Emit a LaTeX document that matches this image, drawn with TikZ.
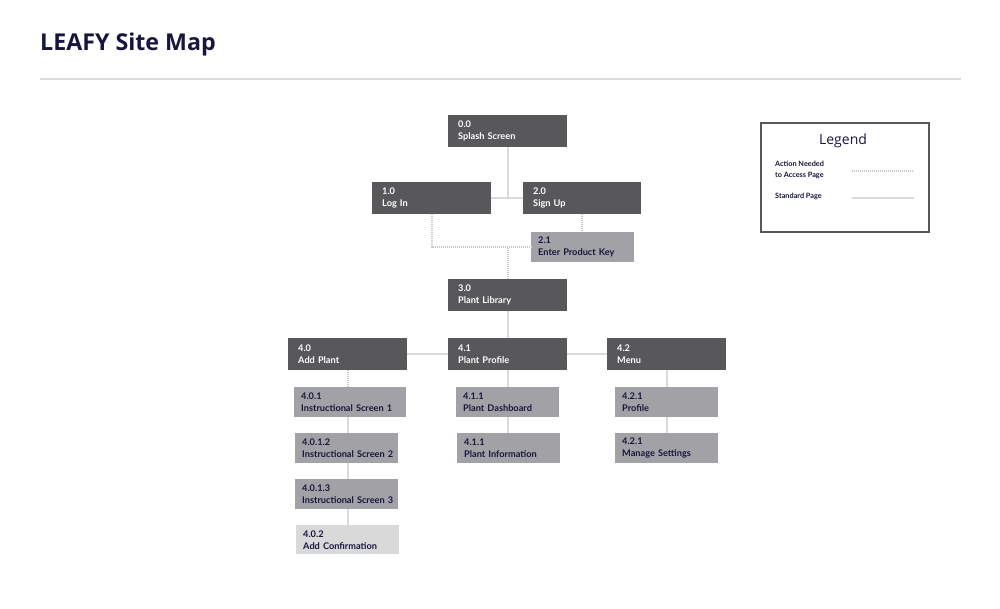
\documentclass[tikz,border=0pt]{standalone}
\usepackage{fontspec}
\setmainfont{Open Sans}
\newfontfamily\boxfont{Lato}
\definecolor{dk}{HTML}{58585A}
\definecolor{md}{HTML}{A2A2A6}
\definecolor{lt}{HTML}{D9D9D9}
\definecolor{nv}{HTML}{16163F}
\definecolor{ln}{HTML}{DADADA}
\begin{document}
\begin{tikzpicture}[x=1pt,y=-1pt,
  pg/.style n args={2}{rectangle, anchor=north west, inner xsep=10pt, inner ysep=0pt,
     minimum width=#1, minimum height=#2, text width=#1-20pt, align=left,
     font=\boxfont\bfseries\fontsize{9.2}{12}\selectfont},
  dkpg/.style={fill=dk, text=white},
  mdpg/.style={fill=md, text=nv},
  ltpg/.style={fill=lt, text=nv},
  solidln/.style={draw=ln, line width=2pt},
  dotln/.style={draw=ln!80!gray, line width=2pt, dash pattern=on 1pt off 1pt}]
\useasboundingbox[fill=white] (0,0) rectangle (1000,609);
% title
\node[anchor=base west, inner sep=0pt, text=nv, font=\bfseries\fontsize{23.2}{28}\selectfont] (title) at (40,51) {LEAFY Site Map};
\coordinate (r1) at (40,79);
\coordinate (r2) at (961,79);
\draw[draw=ln, line width=2pt] (r1) -- (r2);
% pages
\node[pg={119}{32}, dkpg] (s00) at (448,115) {0.0\\Splash Screen};
\node[pg={119}{32}, dkpg] (l10) at (372,182) {1.0\\Log In};
\node[pg={118}{32}, dkpg] (s20) at (523,182) {2.0\\Sign Up};
\node[pg={103}{30}, mdpg, inner xsep=7pt, text width=89pt] (s21) at (531,232) {2.1\\Enter Product Key};
\node[pg={119}{32}, dkpg] (s30) at (448,279) {3.0\\Plant Library};
\node[pg={119}{32}, dkpg] (s40) at (288,338) {4.0\\Add Plant};
\node[pg={119}{32}, dkpg] (s41) at (448,338) {4.1\\Plant Profile};
\node[pg={119}{32}, dkpg] (s42) at (607,338) {4.2\\Menu};
\node[pg={112}{30}, mdpg, inner xsep=7pt, text width=98pt] (s401) at (294,387) {4.0.1\\Instructional Screen 1};
\node[pg={103}{30}, mdpg, inner xsep=7pt, text width=89pt] (s4012) at (295,433) {4.0.1.2\\\mbox{Instructional Screen 2}};
\node[pg={103}{30}, mdpg, inner xsep=7pt, text width=89pt] (s4013) at (295,479) {4.0.1.3\\\mbox{Instructional Screen 3}};
\node[pg={103}{29}, ltpg, inner xsep=7pt, text width=89pt] (s402) at (296,525) {4.0.2\\Add Confirmation};
\node[pg={103}{30}, mdpg, inner xsep=7pt, text width=89pt] (s411) at (456,387) {4.1.1\\Plant Dashboard};
\node[pg={103}{30}, mdpg, inner xsep=7pt, text width=89pt] (s412) at (457,433) {4.1.1\\Plant Information};
\node[pg={103}{30}, mdpg, inner xsep=7pt, text width=89pt] (s421) at (615,387) {4.2.1\\Profile};
\node[pg={103}{30}, mdpg, inner xsep=7pt, text width=89pt] (s422) at (615,433) {4.2.1\\Manage Settings};
% connectors
\draw[solidln] (s00.south) |- (l10.east);
\draw[solidln] (s00.south) |- (s20.west);
\draw[dotln] (l10.south) |- (s21.west);
\draw[dotln] (s20.south) -- (s20.south |- s21.north);
\draw[dotln] (s30.north) -- (s30.north |- s21.west);
\draw[solidln] (s30.south) -- (s41.north);
\draw[solidln] (s40.east) -- (s41.west);
\draw[solidln] (s41.east) -- (s42.west);
\draw[dotln] (s40.south) -- (s40.south |- s401.north);
\draw[solidln] (s40.south |- s401.south) -- (s40.south |- s4012.north);
\draw[solidln] (s40.south |- s4012.south) -- (s40.south |- s4013.north);
\draw[solidln] (s40.south |- s4013.south) -- (s40.south |- s402.north);
\draw[solidln] (s41.south) -- (s411.north);
\draw[solidln] (s41.south |- s411.south) -- (s41.south |- s412.north);
\draw[solidln] (s42.south) -- (s421.north);
\draw[solidln] (s421.south) -- (s422.north);
% legend
\node[draw=dk, line width=2pt, anchor=north west, minimum width=168pt, minimum height=109pt, inner sep=0pt] (leg) at (760,122) {};
\node[text=nv, font=\fontsize{14}{16}\selectfont, inner sep=0pt, anchor=base] (legt) at (843,145) {Legend};
\node[text=nv, font=\boxfont\bfseries\fontsize{7.3}{11}\selectfont, align=left, anchor=north west, inner sep=0pt] (la) at (775,161) {Action Needed\\to Access Page};
\node[text=nv, font=\boxfont\bfseries\fontsize{7.3}{11}\selectfont, anchor=north west, inner sep=0pt] (lb) at (775,193) {Standard Page};
\coordinate (da) at (852,171);
\coordinate (db) at (914,171);
\coordinate (sa) at (852,198);
\coordinate (sb) at (914,198);
\draw[dotln] (da) -- (db);
\draw[solidln] (sa) -- (sb);
\end{tikzpicture}
\end{document}
